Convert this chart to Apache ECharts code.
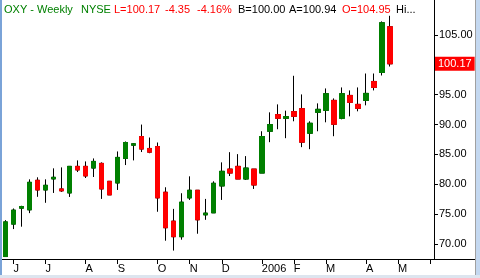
<!DOCTYPE html>
<html><head><meta charset="utf-8">
<script src="https://cdn.jsdelivr.net/npm/echarts@6/dist/echarts.min.js"></script>
<style>html,body{margin:0;padding:0;background:#fff}#c{width:480px;height:278px}</style>
</head><body><div id="c"></div>
<script>
// Week-ending dates (weekly bars)
const categories = [
  '2005-05-27','2005-06-03','2005-06-10','2005-06-17','2005-06-24',
  '2005-07-01','2005-07-08','2005-07-15','2005-07-22','2005-07-29',
  '2005-08-05','2005-08-12','2005-08-19','2005-08-26',
  '2005-09-02','2005-09-09','2005-09-16','2005-09-23','2005-09-30',
  '2005-10-07','2005-10-14','2005-10-21','2005-10-28',
  '2005-11-04','2005-11-11','2005-11-18','2005-11-25',
  '2005-12-02','2005-12-09','2005-12-16','2005-12-23','2005-12-30',
  '2006-01-06','2006-01-13','2006-01-20','2006-01-27',
  '2006-02-03','2006-02-10','2006-02-17','2006-02-24',
  '2006-03-03','2006-03-10','2006-03-17','2006-03-24','2006-03-31',
  '2006-04-07','2006-04-14','2006-04-21','2006-04-28',
  '2006-05-05','2006-05-12','2006-05-19','2006-05-26',
  '2006-06-02'
];
const opens  = [67.90,73.33,76.00,75.72,80.67,79.05,80.90,79.22,78.55,83.00,
                83.00,82.72,83.50,80.50,80.22,84.33,86.55,88.00,86.00,86.33,
                78.67,73.83,71.22,77.72,79.00,74.88,75.22,79.72,82.55,83.00,
                80.88,82.55,81.88,88.88,91.67,91.05,92.17,92.67,88.55,92.05,
                92.38,94.05,91.05,94.88,93.38,94.05,97.22,98.72,106.38];
const closes = [73.70,75.67,76.28,80.33,79.05,79.83,81.17,78.90,83.00,82.40,
                81.40,83.83,79.22,78.22,84.50,87.00,86.78,85.90,85.38,77.72,
                72.72,71.22,77.00,79.00,74.05,75.17,80.17,82.17,81.88,80.88,
                82.72,79.88,88.00,90.00,91.05,91.33,91.38,87.05,90.22,92.55,
                95.17,90.05,95.17,93.72,92.72,95.22,96.22,107.05,100.17];
const lows   = [67.90,72.50,72.90,75.17,77.90,76.90,78.55,78.72,77.88,82.05,
                81.05,81.22,77.55,78.22,79.05,83.22,84.00,85.40,85.20,75.40,
                70.55,68.90,70.72,77.38,71.72,74.05,75.22,77.38,81.38,80.88,
                80.72,79.22,81.88,87.05,89.22,87.72,90.55,86.22,85.88,88.88,
                90.38,88.05,90.88,91.38,92.22,93.22,95.72,98.22,99.72];
const highs  = [74.00,75.95,76.40,80.83,81.17,80.83,82.67,82.83,83.00,84.00,
                83.83,84.33,83.67,80.50,85.50,87.17,86.90,90.00,87.83,87.00,
                79.50,75.88,78.50,81.33,79.00,77.55,80.50,83.67,85.38,85.05,
                84.72,82.55,88.88,92.05,93.38,92.33,98.17,95.05,90.55,93.55,
                96.05,94.38,96.22,95.72,96.22,98.55,98.55,107.28,108.22];
const yTickValues = [70,75,80,85,90,95,100,105];
const monthTickDates  = ['2005-06-03','2005-07-01','2005-08-05','2005-09-02','2005-10-07','2005-11-04',
                         '2005-12-02','2006-01-06','2006-02-03','2006-03-03','2006-04-07','2006-05-05','2006-06-02'];
const monthTickLabels = ['J','J','A','S','O','N','D','2006','F','M','A','M',''];
const lastPrice = 100.17;
const headerTexts  = ['OXY - Weekly','NYSE','L=100.17','-4.35','-4.16%','B=100.00','A=100.94','O=104.95','Hi...'];
const headerColors = ['#008000','#008000','#ff0000','#ff0000','#ff0000','#000000','#000000','#ff0000','#000000'];

const headerX = [4,81,114,165,197,238,289,342,396];
const FONT = '"Liberation Sans", Arial, sans-serif';
const GREEN = '#008000', RED = '#ff0000';

const ohlc = opens.map((o,i)=>[o, closes[i], lows[i], highs[i]]);
const bodies = opens.map((o,i)=>[o, closes[i], Math.min(o,closes[i]), Math.max(o,closes[i])]);
const tickIdx = new Set(monthTickDates.map(d=>categories.indexOf(d)));
const labelOf = {}; monthTickDates.forEach((d,i)=>labelOf[d]=monthTickLabels[i]);

const chart = echarts.init(document.getElementById('c'), null, {renderer:'canvas'});
const graphics = headerTexts.map((t,i)=>({
  type:'text', left: headerX[i], top: 4, z: 100,
  style:{text:t, fill:headerColors[i], font:'11px '+FONT}
}));
graphics.push(
  {type:'rect', shape:{x:0,y:0,width:2,height:278}, style:{fill:'#7aa3d8'}, z:90},
  {type:'line', shape:{x1:434,y1:259.5,x2:475,y2:259.5}, style:{stroke:'#000',lineWidth:1}, z:90},
  {type:'line', shape:{x1:475.5,y1:0,x2:475.5,y2:276}, style:{stroke:'#a0a0a0',lineWidth:1}, z:90},
  {type:'rect', shape:{x:476,y:0,width:4,height:278}, style:{fill:'#c4d8f0'}, z:90},
  {type:'rect', shape:{x:0,y:275,width:480,height:3}, style:{fill:'#dde5ef'}, z:90}
);

chart.setOption({
  animation:false,
  backgroundColor:'#ffffff',
  grid:{left:1.5, right:46, top:0, bottom:19, containLabel:false},
  xAxis:{
    type:'category', data:categories, boundaryGap:true,
    axisLine:{show:true, lineStyle:{color:'#000', width:1}},
    axisTick:{show:true, alignWithLabel:true, length:5, lineStyle:{color:'#000'},
      interval:(i)=>tickIdx.has(i)},
    axisLabel:{show:true, interval:(i)=>tickIdx.has(i), formatter:(v)=>labelOf[v]||'',
      align:'left', margin:4, color:'#000', fontSize:11, fontFamily:FONT, hideOverlap:false},
    splitLine:{show:false}
  },
  yAxis:{
    type:'value', position:'right', min:67.488, max:110.861, scale:true,
    axisLine:{show:true, lineStyle:{color:'#000', width:1}},
    axisTick:{show:true, length:4, inside:false, lineStyle:{color:'#000'}, customValues:yTickValues},
    axisLabel:{show:true, margin:5, color:'#000', fontSize:11, fontFamily:FONT,
      customValues:yTickValues, formatter:(v)=>v.toFixed(2)},
    splitLine:{show:false}
  },
  graphic: graphics,
  series:[
    {type:'candlestick', data:ohlc, barWidth:5, z:2,
      itemStyle:{color:'#000', color0:'#000', borderColor:'#000', borderColor0:'#000', borderColorDoji:'#000', borderWidth:1},
      markLine:{silent:true, symbol:'none', animation:false, z:10,
        lineStyle:{color:'rgba(0,0,0,0)', width:1, type:'solid'},
        label:{show:true, position:'end', distance:1, formatter:()=>lastPrice.toFixed(2),
          color:'#fff', backgroundColor:RED, padding:[2,3,1,3], fontSize:11, fontFamily:FONT},
        data:[{yAxis:lastPrice}]}
    },
    {type:'candlestick', data:bodies, barWidth:5, z:3,
      itemStyle:{color:GREEN, color0:RED, borderColor:GREEN, borderColor0:RED, borderColorDoji:GREEN, borderWidth:1}
    }
  ]
});
</script></body></html>
